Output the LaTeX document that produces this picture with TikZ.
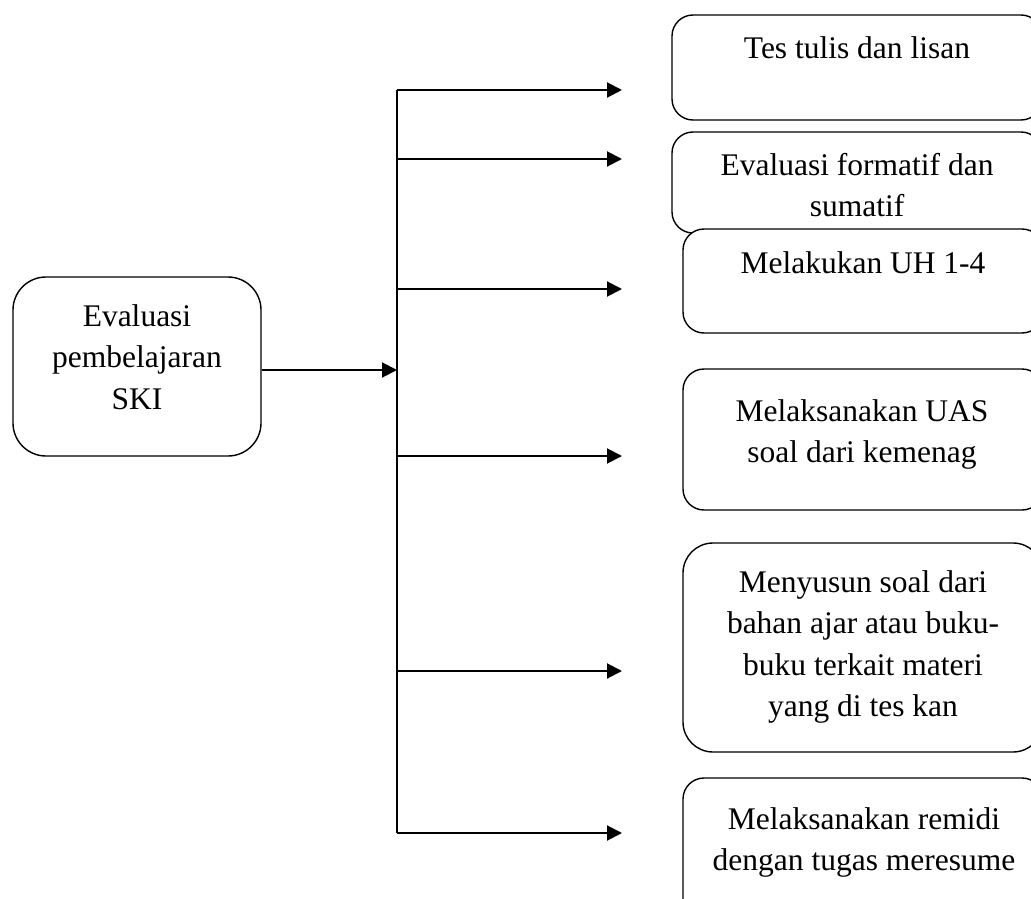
\documentclass[tikz,border=0pt]{standalone}
\usepackage{fontspec}
\setmainfont{Liberation Serif}
\usetikzlibrary{arrows.meta}
\begin{document}
\begin{tikzpicture}[x=1pt,y=-1pt,
  box/.style={draw=black, line width=1.4pt, fill=white, rectangle, rounded corners=21pt, inner sep=0pt},
  bigbox/.style={box, rounded corners=33pt},
  txt/.style={align=center, inner sep=0pt, font=\fontsize{31.5}{41.5}\selectfont},
  conn/.style={line width=2pt},
  arr/.style={conn, -{Triangle[length=15pt,width=15pt]}}
]
\useasboundingbox (0,0) rectangle (1031,899);
\clip (0,0) rectangle (1031,899);

% left box
\node[bigbox, minimum width=248pt, minimum height=179pt] (src) at (137,366.5) {};
\node[txt, anchor=base] (tsrc) at (137,409) {Evaluasi\\pembelajaran\\SKI};

% right boxes
\node[box, minimum width=370pt, minimum height=105pt] (b1) at (857,67.5) {};
\node[txt, anchor=base] (t1) at (857,59) {Tes tulis dan lisan};

\node[box, minimum width=370pt, minimum height=101pt] (b2) at (857,182.5) {};
\node[txt, anchor=base] (t2) at (857,216.5) {Evaluasi formatif dan\\sumatif};

\node[box, minimum width=360pt, minimum height=104pt] (b3) at (863,281) {};
\node[txt, anchor=base] (t3) at (863,273) {Melakukan UH 1-4};

\node[box, minimum width=360pt, minimum height=141pt] (b4) at (863,439.5) {};
\node[txt, anchor=base] (t4) at (862,462.5) {Melaksanakan UAS\\soal dari kemenag};

\node[box, rounded corners=30pt, minimum width=360pt, minimum height=209pt] (b5) at (863,647.5) {};
\node[txt, anchor=base] (t5) at (863,716.5) {Menyusun soal dari\\bahan ajar atau buku-\\buku terkait materi\\yang di tes kan};

\node[box, minimum width=360pt, minimum height=142pt] (b6) at (863,849) {};
\node[txt, anchor=base] (t6) at (864,870.5) {Melaksanakan remidi\\dengan tugas meresume};

% bus
\coordinate (in) at (397,370);
\coordinate (s1) at (397,90);
\coordinate (s2) at (397,159);
\coordinate (s3) at (397,289);
\coordinate (s4) at (397,456);
\coordinate (s5) at (397,671);
\coordinate (s6) at (397,833);
\coordinate (e1) at (622,90);
\coordinate (e2) at (622,159);
\coordinate (e3) at (622,289);
\coordinate (e4) at (622,456);
\coordinate (e5) at (622,671);
\coordinate (e6) at (622,833);

\draw[arr] (src.east |- in) -- (in);
\draw[conn] (s1) -- (s6);
\foreach \i in {1,...,6} {\draw[arr] (s\i) -- (e\i);}
\end{tikzpicture}
\end{document}
